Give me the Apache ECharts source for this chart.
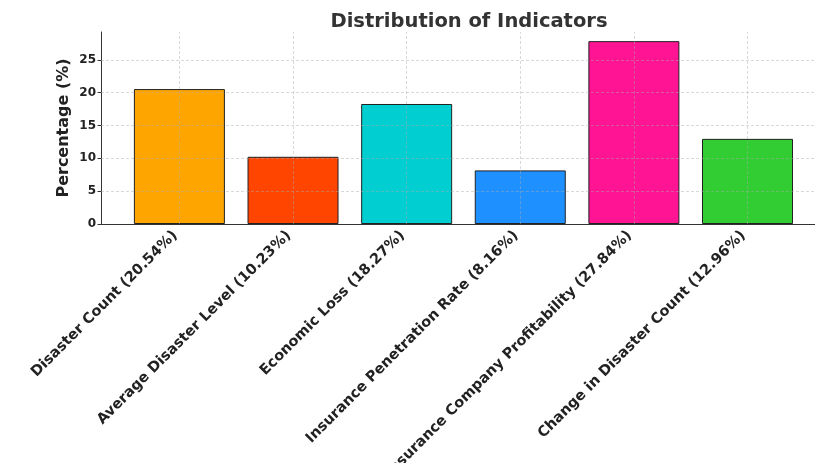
<!DOCTYPE html>
<html>
<head>
<meta charset="utf-8">
<script src="https://cdn.jsdelivr.net/npm/echarts@6/dist/echarts.min.js"></script>
<style>
  html, body { margin: 0; padding: 0; background: #fff; }
  #chart { width: 815px; height: 463px; }
</style>
</head>
<body>
<div id="chart"></div>
<script>
const categories = [
  'Disaster Count (20.54%)',
  'Average Disaster Level (10.23%)',
  'Economic Loss (18.27%)',
  'Insurance Penetration Rate (8.16%)',
  'Insurance Company Profitability (27.84%)',
  'Change in Disaster Count (12.96%)'
];
const values = [20.54, 10.23, 18.27, 8.16, 27.84, 12.96];
const barColors = ['#FFA500', '#FF4500', '#00CED1', '#1E90FF', '#FF1493', '#32CD32'];
const yTicks = [0, 5, 10, 15, 20, 25];

const positions = categories.map((c, i) => i);
const FONT = 'DejaVu Sans';
const gridStyle = { color: 'rgba(170,170,170,0.45)', width: 1, type: [3, 2] };

const chart = echarts.init(document.getElementById('chart'), null, { renderer: 'canvas' });
chart.setOption({
  animation: false,
  backgroundColor: '#fff',
  title: {
    text: 'Distribution of Indicators',
    left: 464, top: 7, textAlign: 'center',
    textStyle: { fontFamily: FONT, fontWeight: 'bold', fontSize: 19.5, color: '#333' }
  },
  grid: { left: 101, right: 0, top: 32, bottom: 239, containLabel: false, outerBoundsMode: 'none' },
  xAxis: {
    type: 'value', min: -0.69, max: 5.594,
    axisLine: { show: true, onZero: false, lineStyle: { color: '#333', width: 1 } },
    axisTick: { show: true, inside: true, length: 3, customValues: positions, lineStyle: { color: '#333' } },
    axisLabel: {
      customValues: positions, rotate: 45, margin: 5, padding: [0, 6, 0, 0],
      formatter: v => categories[Math.round(v)] || '',
      fontFamily: FONT, fontWeight: 'bold', fontSize: 14.5, color: '#222'
    },
    splitLine: { show: false }
  },
  yAxis: {
    type: 'value', min: 0, max: 29.23,
    name: 'Percentage (%)', nameLocation: 'middle', nameRotate: 90, nameGap: 29,
    nameMoveOverlap: false,
    nameTextStyle: { fontFamily: FONT, fontWeight: 'bold', fontSize: 16, color: '#222' },
    axisLine: { show: true, onZero: false, lineStyle: { color: '#333', width: 1 } },
    axisTick: { show: true, length: 3.5, customValues: yTicks, lineStyle: { color: '#333' } },
    axisLabel: {
      customValues: yTicks, margin: 5,
      fontFamily: FONT, fontWeight: 'bold', fontSize: 12, color: '#222'
    },
    splitLine: { show: false }
  },
  series: [{
    type: 'bar',
    barWidth: 91,
    data: values.map((v, i) => ({
      value: [positions[i], v],
      itemStyle: { color: barColors[i], borderColor: '#222', borderWidth: 1 }
    })),
    markLine: {
      silent: true, symbol: 'none', label: { show: false },
      lineStyle: gridStyle,
      data: positions.map(p => ({ xAxis: p }))
        .concat(yTicks.filter(t => t > 0).map(t => ({ yAxis: t })))
    }
  }]
});
</script>
</body>
</html>
